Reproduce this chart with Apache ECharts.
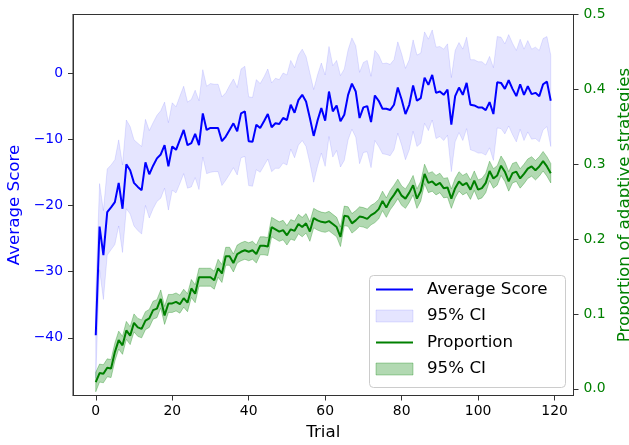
<!DOCTYPE html>
<html>
<head>
<meta charset="utf-8">
<script src="https://cdn.jsdelivr.net/npm/echarts@6/dist/echarts.min.js"></script>
<style>
  html, body { margin: 0; padding: 0; background: #ffffff; }
  #chart { width: 629px; height: 445px; }
</style>
</head>
<body>
<div id="chart"></div>
<script>
// ---------------- data ----------------
const trialCount = 120;
const trials = Array.from({ length: trialCount }, (_, i) => i);

const xTicks = [0, 20, 40, 60, 80, 100, 120];
const scoreTicks = [-40, -30, -20, -10, 0];
const propTicks = [0.0, 0.1, 0.2, 0.3, 0.4, 0.5];

const averageScore = [
  -39.6, -23.2, -27.5, -21.0, -20.3, -19.5, -16.6, -20.5, -13.8, -14.7,
  -16.6, -17.2, -17.7, -13.5, -15.3, -14.0, -12.9, -12.3, -10.9, -14.1,
  -11.1, -11.6, -10.1, -8.6, -10.9, -10.6, -9.2, -10.9, -6.1, -8.6,
  -8.3, -8.3, -8.3, -10.3, -9.6, -8.6, -7.6, -8.8, -6.1, -5.8,
  -10.3, -10.4, -7.8, -8.3, -7.3, -6.2, -8.2, -7.6, -7.7, -6.8,
  -7.1, -4.8, -6.0, -4.1, -3.3, -4.3, -6.8, -9.5, -7.2, -5.3,
  -7.2, -2.8, -5.8, -4.9, -7.3, -6.3, -3.3, -1.6, -2.8, -6.8,
  -5.2, -5.0, -7.4, -3.4, -4.2, -5.4, -5.4, -5.6, -4.8, -2.2,
  -4.0, -6.2, -4.8, -1.9, -4.2, -3.8, -0.7, -1.8, -0.3, -3.0,
  -2.8, -3.3, -2.5, -7.8, -3.5, -2.2, -3.3, -1.5, -4.8, -4.9,
  -5.2, -5.2, -5.6, -4.4, -6.2, -1.4, -1.5, -2.4, -1.1, -2.4,
  -3.5, -1.7, -3.3, -2.0, -3.2, -3.0, -3.5, -1.7, -1.3, -4.2
];

// half width of the 95% CI of the score
const scoreCiHalf = [
  6.5, 6.5, 6.7, 6.5, 6.4, 6.4, 6.5, 6.6, 6.7, 6.6,
  6.5, 6.6, 6.6, 6.5, 6.6, 6.5, 6.5, 6.6, 6.5, 6.6,
  6.6, 6.5, 6.6, 6.6, 6.5, 6.6, 6.6, 6.7, 6.6, 6.6,
  6.7, 6.6, 6.6, 6.7, 6.6, 6.7, 6.7, 6.6, 6.7, 6.8,
  6.7, 6.7, 6.8, 6.7, 6.7, 6.8, 6.7, 6.8, 6.7, 6.8,
  6.8, 6.7, 6.8, 6.8, 6.9, 6.8, 6.8, 7.0, 6.9, 6.8,
  6.9, 6.8, 6.9, 6.8, 6.9, 6.9, 6.8, 6.9, 6.9, 6.9,
  6.8, 6.9, 6.9, 6.8, 6.9, 6.8, 6.9, 6.9, 6.8, 6.9,
  6.9, 6.9, 6.8, 6.9, 6.9, 6.8, 6.9, 6.9, 6.8, 6.9,
  6.8, 6.9, 6.9, 7.1, 6.9, 6.8, 6.9, 6.9, 6.8, 6.9,
  6.9, 6.9, 6.8, 6.9, 7.0, 6.9, 6.9, 6.8, 6.9, 6.9,
  6.9, 6.8, 6.9, 6.9, 6.8, 6.9, 6.9, 6.9, 6.8, 6.9
];

const proportion = [
  0.009, 0.021, 0.020, 0.028, 0.027, 0.049, 0.065, 0.058, 0.078, 0.071,
  0.088, 0.082, 0.080, 0.091, 0.094, 0.105, 0.107, 0.120, 0.098, 0.114,
  0.114, 0.116, 0.113, 0.121, 0.115, 0.134, 0.127, 0.149, 0.149, 0.149,
  0.149, 0.145, 0.161, 0.154, 0.177, 0.177, 0.168, 0.180, 0.183, 0.185,
  0.183, 0.185, 0.180, 0.191, 0.191, 0.190, 0.216, 0.213, 0.210, 0.212,
  0.205, 0.213, 0.211, 0.220, 0.216, 0.221, 0.210, 0.228, 0.225, 0.223,
  0.222, 0.224, 0.220, 0.216, 0.203, 0.231, 0.230, 0.221, 0.225, 0.230,
  0.229, 0.227, 0.232, 0.235, 0.240, 0.251, 0.242, 0.252, 0.259, 0.267,
  0.258, 0.254, 0.262, 0.272, 0.254, 0.264, 0.287, 0.275, 0.277, 0.272,
  0.275, 0.268, 0.269, 0.254, 0.268, 0.277, 0.272, 0.275, 0.266, 0.278,
  0.266, 0.268, 0.275, 0.291, 0.281, 0.285, 0.298, 0.290, 0.277, 0.288,
  0.290, 0.281, 0.287, 0.294, 0.297, 0.292, 0.297, 0.304, 0.297, 0.288
];

// half width of the 95% CI of the proportion
const propCiHalf = [
  0.013, 0.012, 0.012, 0.012, 0.012, 0.012, 0.012, 0.012, 0.012, 0.012,
  0.012, 0.012, 0.012, 0.012, 0.012, 0.012, 0.012, 0.012, 0.012, 0.012,
  0.012, 0.012, 0.012, 0.012, 0.012, 0.012, 0.012, 0.012, 0.012, 0.012,
  0.012, 0.012, 0.012, 0.012, 0.012, 0.012, 0.012, 0.012, 0.012, 0.012,
  0.012, 0.012, 0.012, 0.012, 0.012, 0.012, 0.013, 0.013, 0.013, 0.013,
  0.013, 0.013, 0.013, 0.013, 0.013, 0.013, 0.013, 0.013, 0.013, 0.013,
  0.013, 0.013, 0.013, 0.013, 0.013, 0.013, 0.013, 0.013, 0.013, 0.013,
  0.013, 0.013, 0.013, 0.013, 0.013, 0.013, 0.013, 0.013, 0.013, 0.013,
  0.013, 0.013, 0.013, 0.013, 0.013, 0.013, 0.013, 0.013, 0.013, 0.013,
  0.013, 0.013, 0.013, 0.013, 0.013, 0.013, 0.013, 0.013, 0.013, 0.013,
  0.013, 0.013, 0.013, 0.013, 0.013, 0.013, 0.013, 0.013, 0.013, 0.013,
  0.013, 0.013, 0.013, 0.013, 0.013, 0.013, 0.013, 0.013, 0.013, 0.013
];

const legendLabels = ['Average Score', '95% CI', 'Proportion', '95% CI'];

// ---------------- derived tables for the library ----------------
const scoreLow = averageScore.map((v, i) => v - scoreCiHalf[i]);
const scoreHigh = averageScore.map((v, i) => v + scoreCiHalf[i]);
const propLow = proportion.map((v, i) => v - propCiHalf[i]);
const propHigh = proportion.map((v, i) => v + propCiHalf[i]);

const FONT = 'DejaVu Sans';
const BLUE = '#0000ff';
const GREEN = '#008000';
const SPINE = '#333333';

function bandSeries(name, low, high, yIdx, fill, stroke, z) {
  return {
    type: 'custom',
    name: name,
    xAxisIndex: 0,
    yAxisIndex: yIdx,
    z: z,
    silent: true,
    clip: true,
    data: [[trials[0], low[0]]],
    renderItem: function (params, api) {
      const pts = [];
      for (let i = 0; i < trials.length; i++) pts.push(api.coord([trials[i], high[i]]));
      for (let i = trials.length - 1; i >= 0; i--) pts.push(api.coord([trials[i], low[i]]));
      return {
        type: 'polygon',
        shape: { points: pts },
        style: { fill: fill, stroke: stroke, lineWidth: 1 }
      };
    }
  };
}

const chart = echarts.init(document.getElementById('chart'), null, { renderer: 'canvas' });

const legendX = 376, legendText = 427;
const rowY = [289.5, 316, 342.5, 369];

const option = {
  animation: false,
  backgroundColor: '#ffffff',
  textStyle: { fontFamily: FONT },
  grid: {
    left: 73, right: 55.5, top: 14.5, bottom: 49.5,
    show: true, borderColor: SPINE, borderWidth: 1, backgroundColor: 'transparent',
    outerBoundsMode: 'none'
  },
  xAxis: [{
    type: 'value', position: 'bottom', min: -5.95, max: 124.95,
    axisLine: { show: true, onZero: false, lineStyle: { color: SPINE, width: 1 } },
    axisTick: { show: true, inside: false, length: 5, customValues: xTicks, lineStyle: { color: SPINE, width: 1 } },
    axisLabel: { customValues: xTicks, margin: 9, color: '#000', fontSize: 13.9, fontFamily: FONT },
    splitLine: { show: false },
    name: 'Trial', nameLocation: 'middle', nameGap: 29,
    nameTextStyle: { fontSize: 16.7, color: '#000', fontFamily: FONT }
  }, {
    type: 'value', position: 'top', min: -5.95, max: 124.95,
    axisLine: { show: true, onZero: false, lineStyle: { color: SPINE, width: 1 } },
    axisTick: { show: false }, axisLabel: { show: false }, splitLine: { show: false }
  }],
  yAxis: [{
    type: 'value', position: 'left', min: -48.7, max: 8.83,
    axisLine: { show: true, onZero: false, lineStyle: { color: SPINE, width: 1 } },
    axisTick: { show: true, inside: false, length: 5, customValues: scoreTicks, lineStyle: { color: SPINE, width: 1 } },
    axisLabel: {
      customValues: scoreTicks, margin: 10, color: BLUE, fontSize: 13.9, fontFamily: FONT,
      formatter: function (v) { return String(v).replace('-', '\u2212'); }
    },
    splitLine: { show: false },
    name: 'Average Score', nameLocation: 'middle', nameGap: 46, nameRotate: 90,
    nameTextStyle: { fontSize: 16.7, color: BLUE, fontFamily: FONT }
  }, {
    type: 'value', position: 'right', min: -0.009, max: 0.5,
    axisLine: { show: true, onZero: false, lineStyle: { color: SPINE, width: 1 } },
    axisTick: { show: true, inside: false, length: 5, customValues: propTicks, lineStyle: { color: SPINE, width: 1 } },
    axisLabel: {
      customValues: propTicks, margin: 10, color: GREEN, fontSize: 13.9, fontFamily: FONT,
      formatter: function (v) { return v.toFixed(1); }
    },
    splitLine: { show: false },
    name: 'Proportion of adaptive strategies', nameLocation: 'middle', nameGap: 34, nameRotate: 90,
    nameTextStyle: { fontSize: 16.7, color: GREEN, fontFamily: FONT }
  }],
  series: [
    bandSeries('95% CI (score)', scoreLow, scoreHigh, 0, 'rgba(0,0,255,0.1)', 'rgba(0,0,255,0.1)', 1),
    {
      type: 'line', name: 'Average Score', xAxisIndex: 0, yAxisIndex: 0, z: 2,
      data: trials.map((t, i) => [t, averageScore[i]]),
      symbol: 'none', silent: true,
      lineStyle: { color: BLUE, width: 2 }
    },
    bandSeries('95% CI (proportion)', propLow, propHigh, 1, 'rgba(0,128,0,0.3)', 'rgba(0,128,0,0.3)', 3),
    {
      type: 'line', name: 'Proportion', xAxisIndex: 0, yAxisIndex: 1, z: 4,
      data: trials.map((t, i) => [t, proportion[i]]),
      symbol: 'none', silent: true,
      lineStyle: { color: GREEN, width: 2 }
    }
  ],
  graphic: {
    elements: [
      { type: 'rect', z: 100, shape: { x: 369.5, y: 275.5, width: 196, height: 112, r: 4 },
        style: { fill: 'rgba(255,255,255,0.8)', stroke: '#cccccc', lineWidth: 1 } },
      { type: 'line', z: 101, shape: { x1: legendX, y1: rowY[0], x2: legendX + 37, y2: rowY[0] },
        style: { stroke: BLUE, lineWidth: 2 } },
      { type: 'rect', z: 101, shape: { x: legendX, y: rowY[1] - 6, width: 37, height: 12 },
        style: { fill: 'rgba(0,0,255,0.1)', stroke: 'rgba(0,0,255,0.1)', lineWidth: 1 } },
      { type: 'line', z: 101, shape: { x1: legendX, y1: rowY[2], x2: legendX + 37, y2: rowY[2] },
        style: { stroke: GREEN, lineWidth: 2 } },
      { type: 'rect', z: 101, shape: { x: legendX, y: rowY[3] - 6, width: 37, height: 12 },
        style: { fill: 'rgba(0,128,0,0.3)', stroke: 'rgba(0,128,0,0.3)', lineWidth: 1 } }
    ].concat(legendLabels.map((t, k) => ({
      type: 'text', z: 101, x: legendText, y: rowY[k],
      style: { text: t, fill: '#000', font: '16.7px "DejaVu Sans"', verticalAlign: 'middle', align: 'left' }
    })))
  }
};

chart.setOption(option);
</script>
</body>
</html>
